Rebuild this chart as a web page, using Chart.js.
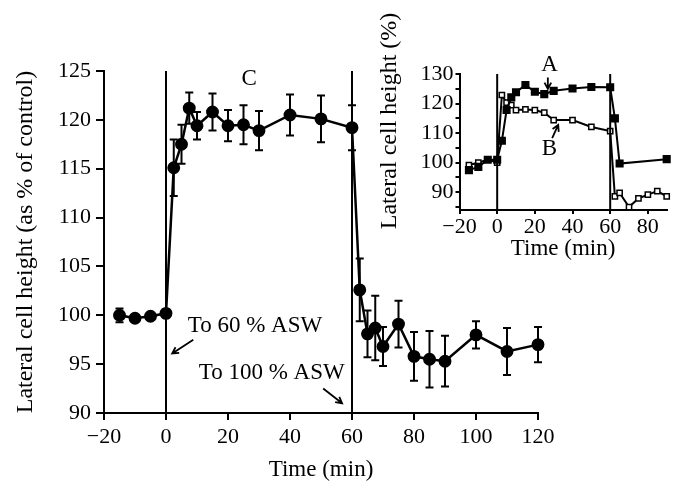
<!DOCTYPE html>
<html>
<head>
<meta charset="utf-8">
<script src="https://cdn.jsdelivr.net/npm/chart.js@4.4.1/dist/chart.umd.min.js"></script>
<style>
  body { margin: 0; background: #fff; }
  #wrap { position: relative; width: 673px; height: 481px; }
  #mainChart { position: absolute; left: 0; top: 0; }
  #insetChart { position: absolute; left: 370px; top: 0; }
</style>
</head>
<body>
<div id="wrap">
  <canvas id="mainChart" width="673" height="481"></canvas>
  <canvas id="insetChart" width="303" height="270"></canvas>
</div>
<script>
// main panel: mean lateral cell height (% of control) with error bars
const time = [-15, -10, -5, 0, 2.5, 5, 7.5, 10, 15, 20, 25, 30, 40, 50, 60,
  62.5, 65, 67.5, 70, 75, 80, 85, 90, 100, 110, 120];
const mean = [100.0, 99.7, 99.9, 100.2, 115.1, 117.5, 121.2, 119.4, 120.8, 119.4, 119.5, 118.9, 120.5, 120.1, 119.2,
  102.6, 98.1, 98.7, 96.8, 99.1, 95.8, 95.5, 95.3, 98.0, 96.3, 97.0];
const sem = [0.7, 0.3, 0.3, 0.4, 2.9, 2.0, 1.6, 1.4, 1.9, 1.6, 2.0, 2.0, 2.1, 2.4, 2.3,
  3.2, 2.4, 3.3, 2.0, 2.4, 2.5, 2.9, 2.6, 1.4, 2.4, 1.8];

// solution changes (min)
const switchTimes = [0, 60];

// inset: single cells A and B
const timeA = [-15, -10, -5, 0, 2.5, 5, 7.5, 10, 15, 20, 25, 30, 40, 50, 60, 62.5, 65, 90];
const cellA = [97.5, 98.6, 101.0, 101.0, 107.4, 117.8, 122.1, 123.8, 126.3, 124.0, 123.2, 124.3, 125.1, 125.6, 125.5, 115.0, 99.7, 101.2];
const timeB = [-15, -10, -5, 0, 2.5, 5, 7.5, 10, 15, 20, 25, 30, 40, 50, 60, 62.5, 65, 70, 75, 80, 85, 90];
const cellB = [99.2, 100.0, 101.1, 100.0, 122.9, 120.3, 119.5, 117.8, 118.0, 117.8, 116.9, 114.4, 114.4, 112.1, 110.7, 88.6, 89.8, 85.0, 87.9, 89.2, 90.4, 88.6];
const insetXTicks = [-20, 0, 20, 40, 60, 80];
const insetYTicks = [85, 90, 95, 100, 105, 110, 115, 120, 125, 130];

// text labels and arrows, in data units
const mainLabels = [
  { text: 'C', x: 26.8, y: 124.2 },
  { text: 'To 60 % ASW', x: 28.7, y: 98.9 },
  { text: 'To 100 % ASW', x: 34.1, y: 94.1 }
];
const mainArrows = [
  { from: [8.8, 97.5], to: [2.0, 96.1] },
  { from: [50.7, 92.5], to: [56.8, 91.0] }
];
const insetLabels = [
  { text: 'A', x: 27.8, y: 133.0 },
  { text: 'B', x: 27.8, y: 104.8 }
];
const insetArrows = [
  { from: [26.9, 128.8], to: [26.9, 125.0] },
  { from: [29.2, 108.3], to: [32.4, 112.8] }
];

const FONT = "'Liberation Serif', 'Times New Roman', serif";
Chart.defaults.font.family = FONT;
Chart.defaults.font.size = 22;
Chart.defaults.color = '#000';

const minus = v => String(v).replace('-', '\u2212');
const pts = (xs, ys) => xs.map((x, i) => ({ x: x, y: ys[i] }));

function drawArrow(ctx, x1, y1, x2, y2) {
  const a = Math.atan2(y2 - y1, x2 - x1);
  const h = 7;
  ctx.beginPath();
  ctx.moveTo(x1, y1);
  ctx.lineTo(x2, y2);
  ctx.moveTo(x2 - h * Math.cos(a - 0.5), y2 - h * Math.sin(a - 0.5));
  ctx.lineTo(x2, y2);
  ctx.lineTo(x2 - h * Math.cos(a + 0.5), y2 - h * Math.sin(a + 0.5));
  ctx.stroke();
}

// draws the labels and arrows of a chart (and an optional side title)
const notes = {
  id: 'notes',
  afterDraw(chart, args, opts) {
    const ctx = chart.ctx;
    const xs = chart.scales.x, ys = chart.scales.y;
    ctx.save();
    ctx.fillStyle = '#000';
    ctx.strokeStyle = '#000';
    ctx.lineWidth = 1.8;
    ctx.font = '23px ' + FONT;
    ctx.textAlign = 'center';
    ctx.textBaseline = 'middle';
    for (const l of opts.labels) {
      ctx.fillText(l.text, xs.getPixelForValue(l.x), ys.getPixelForValue(l.y));
    }
    for (const a of opts.arrows) {
      drawArrow(ctx,
        xs.getPixelForValue(a.from[0]), ys.getPixelForValue(a.from[1]),
        xs.getPixelForValue(a.to[0]), ys.getPixelForValue(a.to[1]));
    }
    if (opts.sideTitle) {
      const t = opts.sideTitle;
      ctx.font = '24px ' + FONT;
      ctx.translate(t.x, t.y);
      ctx.rotate(-Math.PI / 2);
      ctx.fillText(t.text, 0, 0);
    }
    ctx.restore();
  }
};

// error bars for the main series
const errorBars = {
  id: 'errorBars',
  afterDatasetsDraw(chart) {
    const ctx = chart.ctx;
    const xs = chart.scales.x, ys = chart.scales.y;
    ctx.save();
    ctx.strokeStyle = '#000';
    ctx.lineWidth = 2;
    time.forEach((t, i) => {
      const px = xs.getPixelForValue(t);
      const top = ys.getPixelForValue(mean[i] + sem[i]);
      const bot = ys.getPixelForValue(mean[i] - sem[i]);
      ctx.beginPath();
      ctx.moveTo(px, top); ctx.lineTo(px, bot);
      ctx.moveTo(px - 4, top); ctx.lineTo(px + 4, top);
      ctx.moveTo(px - 4, bot); ctx.lineTo(px + 4, bot);
      ctx.stroke();
    });
    ctx.restore();
  }
};

const switchLines = (yMin, yMax) => switchTimes.map(t => ({
  data: [{ x: t, y: yMin }, { x: t, y: yMax }],
  borderColor: '#000',
  borderWidth: 2,
  pointRadius: 0,
  clip: false
}));

// main chart
new Chart(document.getElementById('mainChart'), {
  type: 'line',
  data: {
    datasets: [
      ...switchLines(90, 125),
      {
        data: pts(time, mean),
        borderColor: '#000',
        backgroundColor: '#000',
        borderWidth: 2.5,
        pointRadius: 5.2,
        pointStyle: 'circle',
        clip: false
      }
    ]
  },
  options: {
    responsive: false,
    animation: false,
    layout: { padding: { left: 0, right: 135, top: 71, bottom: 0 } },
    plugins: {
      legend: { display: false },
      tooltip: { enabled: false },
      notes: { labels: mainLabels, arrows: mainArrows }
    },
    scales: {
      x: {
        type: 'linear',
        min: -20, max: 120,
        afterFit: s => { s.height = 68; },
        ticks: { stepSize: 20, padding: 4, callback: minus, maxRotation: 0 },
        grid: { drawOnChartArea: false, tickLength: 7, color: '#000', lineWidth: 2 },
        border: { color: '#000', width: 2 },
        title: { display: true, text: 'Time (min)', font: { size: 23, lineHeight: 1 }, padding: { top: 0, bottom: 0 } }
      },
      y: {
        min: 90, max: 125,
        afterFit: s => { s.width = 104; },
        ticks: { stepSize: 5, padding: 5 },
        grid: { drawOnChartArea: false, tickLength: 8, color: '#000', lineWidth: 2 },
        border: { color: '#000', width: 2 },
        title: { display: true, text: 'Lateral cell height (as % of control)', font: { size: 24, lineHeight: 1 }, padding: { top: 14, bottom: 0 } }
      }
    }
  },
  plugins: [errorBars, notes]
});

// inset chart
new Chart(document.getElementById('insetChart'), {
  type: 'line',
  data: {
    datasets: [
      ...switchLines(84, 130),
      {
        data: pts(timeA, cellA),
        borderColor: '#000',
        backgroundColor: '#000',
        borderWidth: 2,
        pointStyle: 'rect',
        pointRadius: 4.3,
        clip: false
      },
      {
        data: pts(timeB, cellB),
        borderColor: '#000',
        backgroundColor: '#fff',
        borderWidth: 2,
        pointBorderWidth: 1.5,
        pointStyle: 'rect',
        pointRadius: 3.7,
        clip: false
      }
    ]
  },
  options: {
    responsive: false,
    animation: false,
    layout: { padding: { left: 0, right: 5, top: 74, bottom: 0 } },
    plugins: {
      legend: { display: false },
      tooltip: { enabled: false },
      notes: {
        labels: insetLabels,
        arrows: insetArrows,
        sideTitle: { text: 'Lateral cell height (%)', x: 20, y: 121 }
      }
    },
    scales: {
      x: {
        type: 'linear',
        min: -20, max: 90,
        afterFit: s => { s.height = 60; },
        afterBuildTicks: s => { s.ticks = insetXTicks.map(v => ({ value: v })); },
        ticks: { padding: 0, autoSkip: false, callback: minus, maxRotation: 0 },
        grid: { drawOnChartArea: false, tickLength: 4, color: '#000', lineWidth: 2 },
        border: { color: '#000', width: 2 },
        title: { display: true, text: 'Time (min)', font: { size: 23, lineHeight: 1 }, padding: { top: 0, bottom: 10 } }
      },
      y: {
        min: 84, max: 130,
        afterFit: s => { s.width = 89.5; },
        afterBuildTicks: s => { s.ticks = insetYTicks.map(v => ({ value: v })); },
        ticks: {
          padding: 2, autoSkip: false,
          callback: v => (v % 10 === 0 ? v : '')
        },
        grid: { drawOnChartArea: false, tickLength: 4, color: '#000', lineWidth: 2 },
        border: { color: '#000', width: 2 }
      }
    }
  },
  plugins: [notes]
});
</script>
</body>
</html>
